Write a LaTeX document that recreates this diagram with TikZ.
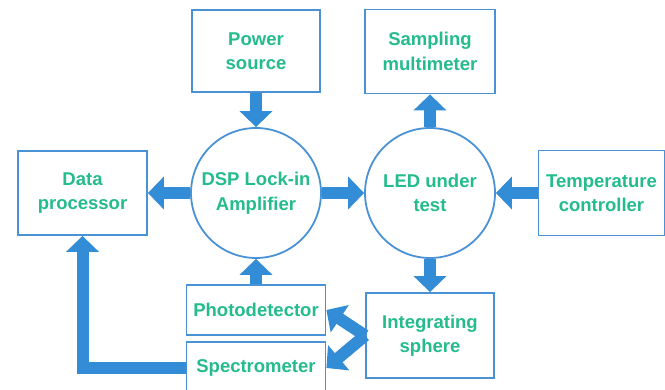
\documentclass[tikz,border=0pt]{standalone}
\usepackage{fontspec}
\setmainfont{Liberation Sans}
\usetikzlibrary{arrows.meta}
\definecolor{boxblue}{RGB}{74,146,214}
\definecolor{arrowblue}{RGB}{50,140,214}
\definecolor{textgreen}{RGB}{36,188,140}

\begin{document}
\begin{tikzpicture}[x=1pt,y=-1pt,
    label text/.style={text=textgreen,align=center,font=\bfseries\fontsize{18.5}{24.5}\selectfont},
    box/.style={draw=boxblue,line width=1.8pt,label text,inner sep=0pt},
    ring/.style={draw=boxblue,line width=1.8pt,circle,minimum size=130pt,label text,inner sep=0pt},
    flow/.style={draw=arrowblue,line width=12pt,-{Triangle[width=32pt,length=16pt]}}]
  % 画布范围
  \clip (0,0) rectangle (665,390);
  \fill[white] (0,0) rectangle (665,390);
  % 两个圆形模块
  \node[ring] (dsp) at (256,193) {DSP Lock-in\\Amplifier};
  \node[ring] (led) at (430,193) {LED under\\test};
  % 方框模块
  \node[box,minimum width=128pt,minimum height=82pt] (power) at (256,51) {Power\\source};
  \node[box,minimum width=130pt,minimum height=84pt] (meter) at (430,51.5) {Sampling\\multimeter};
  \node[box,minimum width=129pt,minimum height=84pt] (data) at (82.5,193) {Data\\processor};
  \node[box,minimum width=126pt,minimum height=85pt] (temp) at (601.5,193) {Temperature\\controller};
  \node[box,minimum width=139pt,minimum height=50pt] (photo) at (256,310) {Photodetector};
  \node[box,minimum width=139pt,minimum height=52pt] (spectro) at (256,368) {Spectrometer};
  \node[box,minimum width=128pt,minimum height=85pt] (sphere) at (430,335.5) {Integrating\\sphere};
  % 信号流向
  \draw[flow] (power) -- (dsp);
  \draw[flow] (dsp) -- (data);
  \draw[flow] (dsp) -- (led);
  \draw[flow] (temp) -- (led);
  \draw[flow] (led) -- (meter);
  \draw[flow] (led) -- (sphere);
  \draw[flow] (photo) -- (dsp);
  % 积分球分光
  \draw[flow] (sphere.west) -- (photo.east);
  \draw[flow] (sphere.west) -- (spectro.east);
  % 光谱仪回到数据处理
  \draw[flow] (spectro.west) -| (data.south);
\end{tikzpicture}
\end{document}
